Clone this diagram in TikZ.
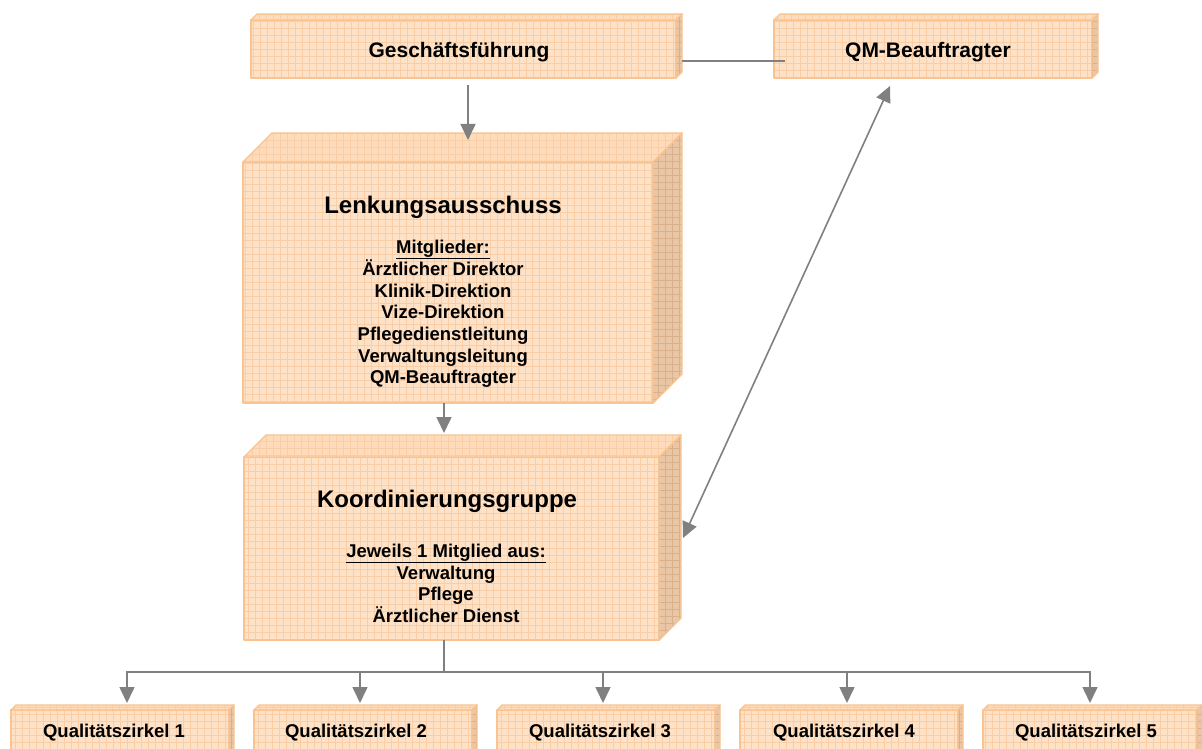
\documentclass[tikz,border=0pt]{standalone}
\usepackage{fontspec}
\setmainfont{Liberation Sans}
\usetikzlibrary{arrows.meta,calc}
\definecolor{frontc}{HTML}{FDE2C8}
\definecolor{gridc}{HTML}{F9CDA6}
\definecolor{edgec}{HTML}{FAC38F}
\definecolor{sidec}{HTML}{E9C6A6}
\definecolor{sidegrid}{HTML}{D9B08C}
\definecolor{topc}{HTML}{FDDBBB}
\definecolor{linec}{HTML}{808080}
\tikzset{
  face/.style={fill=frontc, draw=edgec, line width=1.4pt, line join=round,
    inner sep=0pt, outer sep=0pt,
    path picture={\draw[gridc, line width=0.6pt] (path picture bounding box.south west) grid[step=7pt] (path picture bounding box.north east);}},
  topface/.style={fill=topc, draw=edgec, line width=1.4pt, line join=round,
    path picture={\draw[gridc, line width=0.6pt] (path picture bounding box.south west) grid[step=7pt] (path picture bounding box.north east);}},
  sideface/.style={fill=sidec, draw=edgec, line width=1.4pt, line join=round,
    path picture={\draw[sidegrid, line width=0.6pt] (path picture bounding box.south west) grid[step=7pt] (path picture bounding box.north east);}},
  conn/.style={draw=linec, line width=1.6pt},
  arr/.style={conn, -{Triangle[length=16pt,width=15pt]}},
  darr/.style={conn, {Triangle[length=16pt,width=15pt]}-{Triangle[length=16pt,width=15pt]}},
  ttl/.style={anchor=base, inner sep=0pt, font=\fontsize{21}{25}\selectfont\bfseries},
  big/.style={anchor=base, inner sep=0pt, font=\fontsize{24}{28}\selectfont\bfseries},
  sml/.style={anchor=base, inner sep=0pt, font=\fontsize{18.5}{21.5}\selectfont\bfseries},
}
\newcommand\threedbox[6]{%
  \node[face, anchor=north west, minimum width={#4pt-#2pt}, minimum height={#5pt-#3pt}] (#1) at (#2,#3) {};
  \path[topface] (#1.north west) -- ++(#6,-#6) -- ($(#1.north east)+(#6,-#6)$) -- (#1.north east) -- cycle;
  \path[sideface] (#1.north east) -- ++(#6,-#6) -- ($(#1.south east)+(#6,-#6)$) -- (#1.south east) -- cycle;
}
\begin{document}
\begin{tikzpicture}[x=1pt,y=-1pt]
\useasboundingbox (0,0) rectangle (1202,749);
\clip (0,0) rectangle (1202,749);
\fill[white] (0,0) rectangle (1202,749);

% boxes
\threedbox{gf}{251}{20}{676}{78}{6}
\threedbox{qm}{774}{20}{1092}{78}{6}
\threedbox{lenk}{243}{162}{653}{403}{29}
\threedbox{koord}{244}{457}{659}{640}{22}
\threedbox{qz1}{11}{710}{229}{775}{5}
\threedbox{qz2}{254}{710}{472}{775}{5}
\threedbox{qz3}{497}{710}{715}{775}{5}
\threedbox{qz4}{740}{710}{958}{775}{5}
\threedbox{qz5}{983}{710}{1197}{775}{5}

% texts
\node[ttl] (gft) at (459,58) {Geschäftsführung};
\node[ttl] (qmt) at (928,58) {QM-Beauftragter};

\node[big] (lenkt) at (443,213) {Lenkungsausschuss};
\node[sml] (l1) at (443,253) {\underline{Mitglieder:}};
\node[sml] (l2) at (443,275) {Ärztlicher Direktor};
\node[sml] (l3) at (443,297) {Klinik-Direktion};
\node[sml] (l4) at (443,318) {Vize-Direktion};
\node[sml] (l5) at (443,340) {Pflegedienstleitung};
\node[sml] (l6) at (443,362) {Verwaltungsleitung};
\node[sml] (l7) at (443,383) {QM-Beauftragter};

\node[big] (koordt) at (447,507) {Koordinierungsgruppe};
\node[sml] (k1) at (446,557) {\underline{Jeweils 1 Mitglied aus:}};
\node[sml] (k2) at (446,579) {Verwaltung};
\node[sml] (k3) at (446,600) {Pflege};
\node[sml] (k4) at (446,622) {Ärztlicher Dienst};

\node[sml] (q1t) at (114,737) {Qualitätszirkel 1};
\node[sml] (q2t) at (356,737) {Qualitätszirkel 2};
\node[sml] (q3t) at (600,737) {Qualitätszirkel 3};
\node[sml] (q4t) at (844,737) {Qualitätszirkel 4};
\node[sml] (q5t) at (1086,737) {Qualitätszirkel 5};

% connectors
\draw[conn] ($(gf.east)+(6,12)$) -- ($(qm.west)+(11,12)$);
\draw[arr] ($(gf.south)+(4.5,7)$) -- ++(0,55);
\draw[arr] ($(lenk.south)+(-4,0)$) -- ++(0,30);
\draw[darr] ($(koord.east)+(24,-10.5)$) -- ($(qm.south)+(-43,8)$);
\coordinate (bus) at ($(koord.south)+(-7.5,32)$);
\draw[conn] ($(koord.south)+(-7.5,0)$) -- (bus);
\draw[arr] (bus) -| ($(qz1.north)+(7,-7)$);
\draw[arr] (bus) -| ($(qz2.north)+(-3,-7)$);
\draw[arr] (bus) -| ($(qz3.north)+(-3,-7)$);
\draw[arr] (bus) -| ($(qz4.north)+(-2,-7)$);
\draw[arr] (bus) -| ($(qz5.north)+(0,-7)$);
\end{tikzpicture}
\end{document}
